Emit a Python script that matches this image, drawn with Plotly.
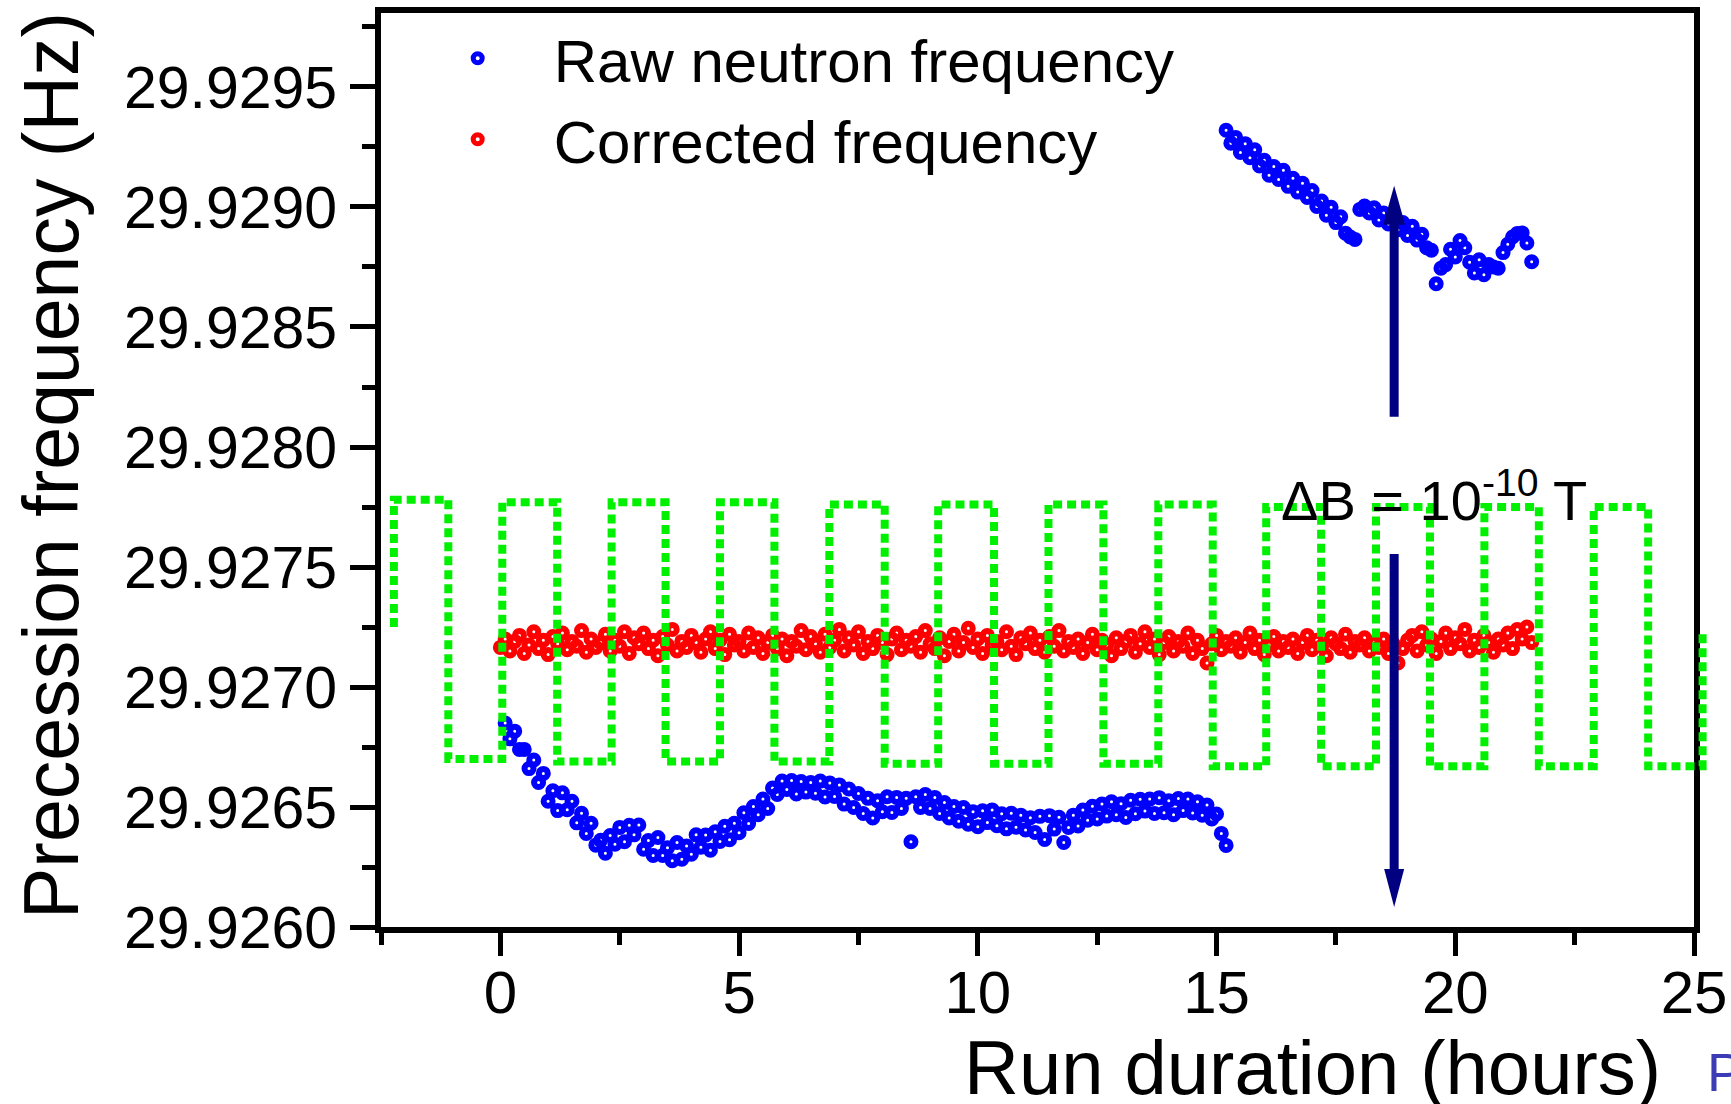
import plotly.graph_objects as go

# ---------------- data ----------------
# measurement times, one reading every 0.1 h
t_hours = [
    0.0, 0.1, 0.2, 0.3, 0.4, 0.5, 0.6, 0.7, 0.8, 0.9,
    1.0, 1.1, 1.2, 1.3, 1.4, 1.5, 1.6, 1.7, 1.8, 1.9,
    2.0, 2.1, 2.2, 2.3, 2.4, 2.5, 2.6, 2.7, 2.8, 2.9,
    3.0, 3.1, 3.2, 3.3, 3.4, 3.5, 3.6, 3.7, 3.8, 3.9,
    4.0, 4.1, 4.2, 4.3, 4.4, 4.5, 4.6, 4.7, 4.8, 4.9,
    5.0, 5.1, 5.2, 5.3, 5.4, 5.5, 5.6, 5.7, 5.8, 5.9,
    6.0, 6.1, 6.2, 6.3, 6.4, 6.5, 6.6, 6.7, 6.8, 6.9,
    7.0, 7.1, 7.2, 7.3, 7.4, 7.5, 7.6, 7.7, 7.8, 7.9,
    8.0, 8.1, 8.2, 8.3, 8.4, 8.5, 8.6, 8.7, 8.8, 8.9,
    9.0, 9.1, 9.2, 9.3, 9.4, 9.5, 9.6, 9.7, 9.8, 9.9,
    10.0, 10.1, 10.2, 10.3, 10.4, 10.5, 10.6, 10.7, 10.8, 10.9,
    11.0, 11.1, 11.2, 11.3, 11.4, 11.5, 11.6, 11.7, 11.8, 11.9,
    12.0, 12.1, 12.2, 12.3, 12.4, 12.5, 12.6, 12.7, 12.8, 12.9,
    13.0, 13.1, 13.2, 13.3, 13.4, 13.5, 13.6, 13.7, 13.8, 13.9,
    14.0, 14.1, 14.2, 14.3, 14.4, 14.5, 14.6, 14.7, 14.8, 14.9,
    15.0, 15.1, 15.2, 15.3, 15.4, 15.5, 15.6, 15.7, 15.8, 15.9,
    16.0, 16.1, 16.2, 16.3, 16.4, 16.5, 16.6, 16.7, 16.8, 16.9,
    17.0, 17.1, 17.2, 17.3, 17.4, 17.5, 17.6, 17.7, 17.8, 17.9,
    18.0, 18.1, 18.2, 18.3, 18.4, 18.5, 18.6, 18.7, 18.8, 18.9,
    19.0, 19.1, 19.2, 19.3, 19.4, 19.5, 19.6, 19.7, 19.8, 19.9,
    20.0, 20.1, 20.2, 20.3, 20.4, 20.5, 20.6, 20.7, 20.8, 20.9,
    21.0, 21.1, 21.2, 21.3, 21.4, 21.5, 21.6,
]

# raw neutron frequency, first part of the run (t = 0.1 .. 15.2 h)
raw_first_hz = [
    29.926850, 29.926784, 29.926816, 29.926740, 29.926740, 29.926660, 29.926696, 29.926602, 29.926640, 29.926524,
    29.926568, 29.926485, 29.926559, 29.926489, 29.926524, 29.926434, 29.926474, 29.926390, 29.926432, 29.926341,
    29.926361, 29.926307, 29.926381, 29.926345, 29.926415, 29.926355, 29.926424, 29.926384, 29.926425, 29.926324,
    29.926360, 29.926298, 29.926373, 29.926298, 29.926330, 29.926276, 29.926352, 29.926282, 29.926338, 29.926303,
    29.926384, 29.926332, 29.926383, 29.926320, 29.926397, 29.926356, 29.926420, 29.926364, 29.926432, 29.926393,
    29.926476, 29.926431, 29.926502, 29.926468, 29.926533, 29.926494, 29.926579, 29.926552, 29.926608, 29.926573,
    29.926610, 29.926554, 29.926606, 29.926562, 29.926602, 29.926557, 29.926608, 29.926542, 29.926600, 29.926544,
    29.926592, 29.926512, 29.926575, 29.926498, 29.926556, 29.926473, 29.926536, 29.926454, 29.926526, 29.926480,
    29.926543, 29.926477, 29.926540, 29.926494, 29.926536, 29.926355, 29.926543, 29.926498, 29.926552, 29.926494,
    29.926540, 29.926473, 29.926519, 29.926454, 29.926502, 29.926441, 29.926498, 29.926428, 29.926480, 29.926418,
    29.926484, 29.926435, 29.926488, 29.926422, 29.926472, 29.926409, 29.926474, 29.926416, 29.926466, 29.926404,
    29.926455, 29.926394, 29.926461, 29.926365, 29.926464, 29.926408, 29.926457, 29.926352, 29.926415, 29.926466,
    29.926421, 29.926487, 29.926445, 29.926503, 29.926450, 29.926512, 29.926462, 29.926522, 29.926468, 29.926514,
    29.926456, 29.926528, 29.926472, 29.926532, 29.926483, 29.926533, 29.926473, 29.926539, 29.926476, 29.926526,
    29.926468, 29.926535, 29.926485, 29.926533, 29.926475, 29.926522, 29.926466, 29.926508, 29.926450, 29.926471,
    29.926390, 29.926340,
]

# raw neutron frequency, second part of the run (t = 15.2 .. 21.6 h)
raw_second_hz = [
    29.929320, 29.929266, 29.929290, 29.929227, 29.929264, 29.929205, 29.929238, 29.929171, 29.929195, 29.929132,
    29.929169, 29.929115, 29.929153, 29.929086, 29.929120, 29.929062, 29.929099, 29.929040, 29.929069, 29.929002,
    29.929025, 29.928966, 29.928999, 29.928935, 29.928959, 29.928891, 29.928875, 29.928865, 29.928990, 29.929004,
    29.928975, 29.928997, 29.928946, 29.928975, 29.928929, 29.928959, 29.928905, 29.928935, 29.928881, 29.928920,
    29.928862, 29.928886, 29.928830, 29.928820, 29.928680, 29.928745, 29.928760, 29.928824, 29.928792, 29.928860,
    29.928830, 29.928770, 29.928725, 29.928780, 29.928718, 29.928760, 29.928750, 29.928745, 29.928810, 29.928845,
    29.928875, 29.928890, 29.928892, 29.928850, 29.928772,
]

# corrected frequency (t = 0.0 .. 21.6 h)
corrected_hz = [
    29.927165, 29.927200, 29.927150, 29.927190, 29.927215, 29.927140, 29.927175, 29.927230, 29.927160, 29.927195,
    29.927135, 29.927210, 29.927180, 29.927225, 29.927155, 29.927190, 29.927170, 29.927235, 29.927145, 29.927200,
    29.927165, 29.927185, 29.927220, 29.927150, 29.927195, 29.927170, 29.927230, 29.927140, 29.927205, 29.927180,
    29.927225, 29.927160, 29.927195, 29.927130, 29.927210, 29.927175, 29.927240, 29.927150, 29.927190, 29.927165,
    29.927215, 29.927185, 29.927145, 29.927200, 29.927230, 29.927160, 29.927195, 29.927135, 29.927220, 29.927175,
    29.927190, 29.927150, 29.927225, 29.927165, 29.927205, 29.927140, 29.927185, 29.927215, 29.927160, 29.927200,
    29.927130, 29.927190, 29.927170, 29.927235, 29.927155, 29.927210, 29.927180, 29.927145, 29.927220, 29.927165,
    29.927195, 29.927240, 29.927150, 29.927205, 29.927175, 29.927230, 29.927140, 29.927190, 29.927160, 29.927215,
    29.927185, 29.927135, 29.927200, 29.927225, 29.927155, 29.927195, 29.927170, 29.927210, 29.927145, 29.927235,
    29.927180, 29.927160, 29.927205, 29.927130, 29.927190, 29.927220, 29.927150, 29.927185, 29.927245, 29.927165,
    29.927200, 29.927140, 29.927215, 29.927175, 29.927190, 29.927155, 29.927230, 29.927170, 29.927135, 29.927205,
    29.927180, 29.927225, 29.927160, 29.927195, 29.927145, 29.927210, 29.927170, 29.927235, 29.927150, 29.927190,
    29.927165, 29.927200, 29.927140, 29.927185, 29.927220, 29.927155, 29.927195, 29.927175, 29.927130, 29.927205,
    29.927160, 29.927190, 29.927215, 29.927145, 29.927180, 29.927230, 29.927165, 29.927200, 29.927135, 29.927185,
    29.927210, 29.927150, 29.927190, 29.927170, 29.927225, 29.927140, 29.927195, 29.927160, 29.927100, 29.927180,
    29.927215, 29.927155, 29.927190, 29.927170, 29.927205, 29.927145, 29.927185, 29.927225, 29.927160, 29.927195,
    29.927135, 29.927175, 29.927210, 29.927150, 29.927190, 29.927165, 29.927200, 29.927140, 29.927185, 29.927215,
    29.927155, 29.927195, 29.927170, 29.927130, 29.927205, 29.927180, 29.927160, 29.927220, 29.927145, 29.927190,
    29.927175, 29.927205, 29.927150, 29.927185, 29.927165, 29.927200, 29.927140, 29.927180, 29.927100, 29.927160,
    29.927195, 29.927215, 29.927150, 29.927230, 29.927175, 29.927200, 29.927140, 29.927190, 29.927225, 29.927160,
    29.927205, 29.927180, 29.927240, 29.927150, 29.927195, 29.927165, 29.927215, 29.927185, 29.927145, 29.927200,
    29.927175, 29.927225, 29.927160, 29.927240, 29.927200, 29.927250, 29.927185,
]

# square-wave reference signal (green): switching times (h) and level reached after each switch
switch_t = [-2.23, -2.23, -1.09, 0.04, 1.19, 2.33, 3.46, 4.60, 5.74, 6.89, 8.05, 9.17, 10.34,
            11.48, 12.63, 13.78, 14.92, 16.04, 17.19, 18.34, 19.47, 20.61, 21.75, 22.90, 24.04, 25.18]
switch_level = [29.92725, 29.92778, 29.92670, 29.92777, 29.92669, 29.92777, 29.92669, 29.92777, 29.92669,
                29.92776, 29.92668, 29.92776, 29.92668, 29.92776, 29.92668, 29.92776, 29.92667, 29.92775,
                29.92667, 29.92775, 29.92667, 29.92775, 29.92667, 29.92775, 29.92667, 29.92722]

# tick labels
x_tick_vals = [0, 5, 10, 15, 20, 25]
y_tick_vals = [29.9260, 29.9265, 29.9270, 29.9275, 29.9280, 29.9285, 29.9290, 29.9295]

# delta-B arrow annotation (hours, Hz)
arrow_x = 18.72
arrow_up = [29.928126, 29.929005, 29.929088]     # tail, shaft end, tip
arrow_down = [29.927554, 29.926166, 29.926083]   # tail, shaft end, tip

# ---------------- figure ----------------
W, H = 1731, 1104
L, R, T, B = 381, 10, 13, 177
plot_w = W - L - R
plot_h = H - T - B
main_w = 1313
x_range = [-2.5, 25]
y_range = [29.926, 29.9298083]
x2_max = x_range[0] + (x_range[1] - x_range[0]) * plot_w / main_w

FONT = "Liberation Sans, Arial, Helvetica, sans-serif"
NAVY = "#000080"

raw_first_t = t_hours[1:153]
raw_second_t = t_hours[152:217]

marker_style = dict(symbol="circle-open", size=9)

fig = go.Figure()
fig.add_trace(go.Scatter(
    x=t_hours, y=corrected_hz, mode="markers", name="Corrected frequency",
    marker=dict(**marker_style, color="#ff0000", line=dict(width=6, color="#ff0000")),
    legendrank=2,
))
fig.add_trace(go.Scatter(
    x=raw_first_t, y=raw_first_hz, mode="markers", name="Raw neutron frequency",
    legendgroup="raw", legendrank=1,
    marker=dict(**marker_style, color="#0000ff", line=dict(width=6, color="#0000ff")),
))
fig.add_trace(go.Scatter(
    x=raw_second_t, y=raw_second_hz, mode="markers", name="Raw neutron frequency",
    legendgroup="raw", showlegend=False,
    marker=dict(**marker_style, color="#0000ff", line=dict(width=6, color="#0000ff")),
))
fig.add_trace(go.Scatter(
    x=switch_t, y=switch_level, mode="lines", xaxis="x2", yaxis="y",
    line=dict(color="#00f000", width=8, dash="9px,5px", shape="hv"),
    showlegend=False, hoverinfo="skip",
))

axis_common = dict(
    showline=True, linewidth=6, linecolor="black", mirror=True,
    ticks="outside", tickwidth=5, tickcolor="black",
    showgrid=False, zeroline=False, automargin=False,
)

fig.update_layout(
    width=W, height=H,
    margin=dict(l=L, r=R, t=T, b=B, pad=0, autoexpand=False),
    paper_bgcolor="white", plot_bgcolor="rgba(0,0,0,0)",
    font=dict(family=FONT, color="black"),
    xaxis=dict(
        **axis_common, domain=[0, main_w / plot_w], range=x_range,
        tickvals=x_tick_vals, ticktext=[str(v) for v in x_tick_vals],
        ticklen=23, tickfont=dict(size=60, family=FONT, color="black"),
        ticklabelstandoff=-15,
        minor=dict(dtick=2.5, tick0=0, ticks="outside", ticklen=12, tickwidth=5,
                   tickcolor="black", showgrid=False),
    ),
    xaxis2=dict(domain=[0, 1], range=[x_range[0], x2_max], visible=False, anchor="y",
                showgrid=False, zeroline=False, automargin=False),
    yaxis=dict(
        **axis_common, range=y_range, anchor="x",
        tickvals=y_tick_vals, ticktext=["%.4f" % v for v in y_tick_vals],
        ticklen=25, tickfont=dict(size=59, family=FONT, color="black"),
        ticklabelstandoff=1,
        minor=dict(dtick=0.00025, tick0=29.926, ticks="outside", ticklen=13, tickwidth=5,
                   tickcolor="black", showgrid=False),
    ),
    legend=dict(
        x=20.7 / plot_w, y=(927 - 12.8) / plot_h, xanchor="left", yanchor="top",
        bgcolor="rgba(0,0,0,0)", borderwidth=0, itemwidth=142,
        font=dict(size=60, family=FONT, color="black"),
        traceorder="normal", tracegroupgap=0,
    ),
    showlegend=True,
)

# axis titles and labels
fig.add_annotation(
    text="Precession frequency (Hz)", xref="paper", yref="paper",
    x=(51 - L) / plot_w, y=(927 - 466) / plot_h, xanchor="center", yanchor="middle",
    textangle=-90, showarrow=False, font=dict(size=77, family=FONT, color="black"),
)
fig.add_annotation(
    text="Run duration (hours)", xref="paper", yref="paper",
    x=(1312 - L) / plot_w, y=(927 - 1067) / plot_h, xanchor="center", yanchor="middle",
    showarrow=False, font=dict(size=76, family=FONT, color="black"),
)
fig.add_annotation(
    text="P", xref="paper", yref="paper",
    x=(1705 - L) / plot_w, y=(927 - 1072) / plot_h, xanchor="left", yanchor="middle",
    showarrow=False, font=dict(size=54, family=FONT, color="#3c3cb4"),
)
fig.add_annotation(
    text="\u0394B = 10<sup>-10</sup> T", xref="x", yref="y",
    x=19.56, y=29.927793, xanchor="center", yanchor="middle",
    showarrow=False, font=dict(size=56, family=FONT, color="black"),
)

# double arrow (two shafts + two heads)
for tail, shaft_end, tip, head in ((arrow_up[0], arrow_up[1], arrow_up[2], "M0,0 L-11,-39 L11,-39 Z"),
                                   (arrow_down[0], arrow_down[1], arrow_down[2], "M0,0 L-10,38 L10,38 Z")):
    fig.add_shape(type="line", xref="x", yref="y", x0=arrow_x, x1=arrow_x, y0=tail, y1=shaft_end,
                  line=dict(color=NAVY, width=9), layer="above")
    fig.add_shape(type="path", xref="x", yref="y", xsizemode="pixel", ysizemode="pixel",
                  xanchor=arrow_x, yanchor=tip, path=head,
                  fillcolor=NAVY, line=dict(color=NAVY, width=0), layer="above")

fig.write_html("out.html", config={"displayModeBar": False},
               post_script="document.body.style.margin='0';")
